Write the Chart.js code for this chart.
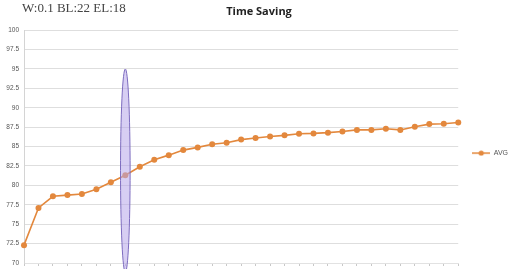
<!DOCTYPE html>
<html>
<head>
<meta charset="utf-8">
<script src="https://cdn.jsdelivr.net/npm/chart.js@4.4.0/dist/chart.umd.min.js"></script>
<style>
    html, body { margin: 0; padding: 0; background: #fff; }
    .wrap { position: relative; width: 516px; height: 269px; overflow: hidden; }
    .note {
        position: absolute; left: 22px; top: 0px;
        font-family: 'Liberation Serif', 'Times New Roman', serif;
        font-size: 13px; line-height: 15px; color: #444;
    }
</style>
</head>
<body>
<div class="wrap">
    <canvas id="timeChart" width="516" height="269"></canvas>
    <div class="note">W:0.1 BL:22 EL:18</div>
</div>
<script>
// Chart data
const categories = Array.from({ length: 31 }, (_, i) => String(i + 1));
const avgValues = [
    72.3, 77.1, 78.6, 78.75, 78.9, 79.5, 80.4, 81.3, 82.4, 83.3,
    83.9, 84.55, 84.9, 85.3, 85.5, 85.9, 86.1, 86.3, 86.45, 86.65,
    86.7, 86.8, 86.95, 87.15, 87.15, 87.3, 87.15, 87.55, 87.9, 87.95, 88.1
];
const yTicks = { min: 70, max: 100, step: 2.5 };
// highlighted category (oval marker) and its vertical span in value units
const markIndex = 7;
const markSpan = [95, 68.8];

const orange = '#E3883D';

// legend marker: line with a dot
const legendMark = document.createElement('canvas');
legendMark.width = 18;
legendMark.height = 6;
(function () {
    const c = legendMark.getContext('2d');
    c.strokeStyle = orange;
    c.lineWidth = 1.5;
    c.beginPath();
    c.moveTo(0, 3);
    c.lineTo(18, 3);
    c.stroke();
    c.fillStyle = orange;
    c.beginPath();
    c.arc(9, 3, 2.6, 0, Math.PI * 2);
    c.fill();
})();

// oval drawn around the marked category
const ovalPlugin = {
    id: 'oval',
    afterDatasetsDraw(chart) {
        const { ctx, scales } = chart;
        const cx = scales.x.getPixelForValue(markIndex);
        const top = scales.y.getPixelForValue(markSpan[0]);
        const bottom = scales.y.getPixelForValue(markSpan[1]);
        ctx.save();
        ctx.beginPath();
        ctx.ellipse(cx, (top + bottom) / 2, 4.8, (bottom - top) / 2, 0, 0, Math.PI * 2);
        ctx.fillStyle = 'rgba(182, 166, 234, 0.55)';
        ctx.fill();
        ctx.lineWidth = 1;
        ctx.strokeStyle = '#7d6cbf';
        ctx.stroke();
        ctx.restore();
    }
};

new Chart(document.getElementById('timeChart'), {
    type: 'line',
    data: {
        labels: categories,
        datasets: [{
            label: 'AVG',
            data: avgValues,
            borderColor: orange,
            backgroundColor: orange,
            borderWidth: 1.6,
            pointRadius: 3,
            pointBorderWidth: 0,
            pointBackgroundColor: orange,
            tension: 0
        }]
    },
    options: {
        responsive: false,
        animation: false,
        layout: { padding: { top: 0, right: -2, bottom: 0, left: 0 } },
        plugins: {
            title: {
                display: true,
                text: 'Time Saving',
                color: '#222',
                font: { family: 'Open Sans', size: 11, weight: 'bold' },
                padding: { top: 5, bottom: 12 }
            },
            legend: {
                position: 'right',
                align: 'center',
                title: {
                    display: true,
                    text: '',
                    font: { size: 1 },
                    padding: { top: 36, bottom: 0 }
                },
                labels: {
                    usePointStyle: true,
                    pointStyleWidth: 18,
                    color: '#555',
                    font: { family: 'Liberation Sans', size: 7 },
                    padding: 14,
                    generateLabels: (chart) => [{
                        text: 'AVG',
                        pointStyle: legendMark,
                        fillStyle: orange,
                        strokeStyle: orange,
                        fontColor: '#555',
                        lineWidth: 0,
                        datasetIndex: 0
                    }]
                }
            },
            tooltip: { enabled: false }
        },
        scales: {
            x: {
                offset: false,
                ticks: { display: false },
                grid: {
                    display: true,
                    drawOnChartArea: false,
                    drawTicks: true,
                    tickLength: 3,
                    color: '#c8c8c8'
                },
                border: { display: true, color: '#e2e2e2' },
                afterFit: (scale) => { scale.height = 6; }
            },
            y: {
                min: yTicks.min,
                max: yTicks.max,
                ticks: {
                    stepSize: yTicks.step,
                    color: '#555',
                    padding: 5,
                    font: { family: 'Liberation Sans', size: 6.5 }
                },
                grid: { color: '#dedede', drawTicks: false },
                border: { display: true, color: '#d4d4d4' },
                afterFit: (scale) => {
                    scale.width = 24;
                    scale.paddingBottom = 0;
                }
            }
        }
    },
    plugins: [ovalPlugin]
});
</script>
</body>
</html>
